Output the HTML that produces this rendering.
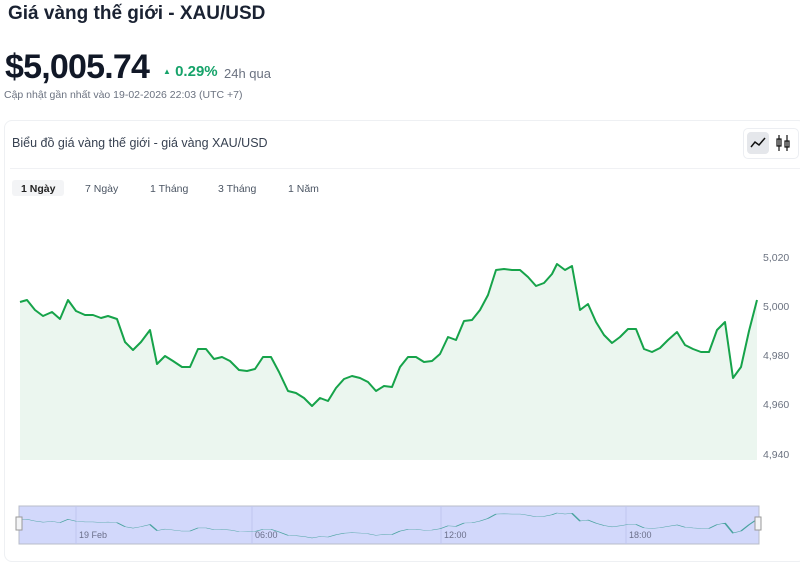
<!DOCTYPE html><html><head><meta charset="utf-8"><style>
body{margin:0;width:800px;height:553px;overflow:hidden;background:#fff;font-family:"Liberation Sans",sans-serif;color:#1f2937}
.t{position:absolute;left:8px;top:3px;font-size:19px;font-weight:600;color:#1a2232}
.p{position:absolute;left:5px;top:48px;font-size:34px;font-weight:700;color:#111827;letter-spacing:-0.8px}
.c{position:absolute;left:163px;top:63px;font-size:15px;font-weight:700;color:#16a36a}
.q{position:absolute;left:224px;top:66px;font-size:13px;color:#6b7280}
.u{position:absolute;left:4px;top:89px;font-size:10.5px;color:#6b7280}
.card{position:absolute;left:4px;top:120px;width:800px;height:440px;border:1px solid #eef0f3;border-radius:8px}
.h{position:absolute;left:12px;top:136px;font-size:12.5px;color:#374151}
</style></head><body>
<div class="t">Giá vàng thế giới - XAU/USD</div>
<div class="p">$5,005.74</div>
<div class="c"><span style="font-size:8px;vertical-align:2px">▲</span> 0.29%</div>
<div class="q">24h qua</div>
<div class="u">Cập nhật gần nhất vào 19-02-2026 22:03 (UTC +7)</div>
<div class="card"></div>
<div class="h">Biểu đồ giá vàng thế giới - giá vàng XAU/USD</div>
<div style="position:absolute;left:10px;top:168px;width:790px;border-top:1px solid #f0f1f4"></div>
<div style="position:absolute;left:743px;top:128px;width:54px;height:29px;border:1px solid #eceef2;border-radius:5px"></div>
<div style="position:absolute;left:747px;top:132px;width:22px;height:22px;background:#e5e7eb;border-radius:4px"></div>
<svg style="position:absolute;left:0;top:0" width="800" height="553">
<defs><polyline id="L" points="20,302 27,300 35,310 43,316 52,312 60,319 68,300 76,311 85,315 93,315 101,318 108,316 117,319 125,342 133,350 141,342 150,330 157,364 165,356 173,361 182,367 190,367 198,349 206,349 214,359 222,357 230,361 239,370 247,371 255,369 263,357 271,357 279,372 288,391 296,393 304,398 312,406 320,398 328,401 336,388 344,379 352,376 360,378 368,382 376,391 384,386 392,387 400,367 408,357 416,357 424,362 432,361 440,354 448,337 456,340 464,321 472,320 480,310 488,295 496,270 504,269 512,270 520,270 528,277 536,286 544,283 552,274 557,264 565,270 572,266 580,310 588,304 596,322 604,335 612,343 620,337 628,329 636,329 644,349 652,352 660,348 668,340 677,332 685,345 693,349 701,352 709,352 717,330 725,322 733,378 741,367 749,331 757,300"/></defs>
<polyline points="751,147 755,142 759,145 765,138" fill="none" stroke="#111" stroke-width="1.5"/>
<g stroke="#111" stroke-width="1.2" fill="none"><line x1="779" y1="135" x2="779" y2="151"/><rect x="777" y="139" width="4" height="7"/><line x1="787" y1="135" x2="787" y2="151"/><rect x="785" y="141" width="4" height="6"/></g>
<rect x="12" y="180" width="52" height="16" rx="3" fill="#f3f4f6"/>
<text font-size="10.5" font-weight="bold" fill="#222" y="192"><tspan x="21">1 Ngày</tspan></text>
<text font-size="10.5" fill="#4b5563" y="192"><tspan x="85">7 Ngày</tspan><tspan x="150">1 Tháng</tspan><tspan x="218">3 Tháng</tspan><tspan x="288">1 Năm</tspan></text>
<polygon fill="#ebf6ef" points="20,460 20,302 27,300 35,310 43,316 52,312 60,319 68,300 76,311 85,315 93,315 101,318 108,316 117,319 125,342 133,350 141,342 150,330 157,364 165,356 173,361 182,367 190,367 198,349 206,349 214,359 222,357 230,361 239,370 247,371 255,369 263,357 271,357 279,372 288,391 296,393 304,398 312,406 320,398 328,401 336,388 344,379 352,376 360,378 368,382 376,391 384,386 392,387 400,367 408,357 416,357 424,362 432,361 440,354 448,337 456,340 464,321 472,320 480,310 488,295 496,270 504,269 512,270 520,270 528,277 536,286 544,283 552,274 557,264 565,270 572,266 580,310 588,304 596,322 604,335 612,343 620,337 628,329 636,329 644,349 652,352 660,348 668,340 677,332 685,345 693,349 701,352 709,352 717,330 725,322 733,378 741,367 749,331 757,300 757,460"/>
<use href="#L" fill="none" stroke="#16a34a" stroke-width="2" stroke-linejoin="round"/>
<g font-size="10.5" fill="#6b7280"><text x="763" y="261">5,020</text><text x="763" y="310">5,000</text><text x="763" y="359">4,980</text><text x="763" y="408">4,960</text><text x="763" y="458">4,940</text></g>
<rect x="19" y="506" width="740" height="38" fill="#d2d8fb" stroke="#b8bcc8"/>
<g stroke="#c0c6ef"><line x1="76" y1="506" x2="76" y2="544"/><line x1="252" y1="506" x2="252" y2="544"/><line x1="441" y1="506" x2="441" y2="544"/><line x1="626" y1="506" x2="626" y2="544"/></g>
<g transform="translate(0,466.5) scale(1,0.176)"><use href="#L" fill="none" stroke="#4aa3a0" stroke-width="2" vector-effect="non-scaling-stroke"/></g>
<g font-size="9" fill="#6b6f8a"><text x="79" y="538">19 Feb</text><text x="255" y="538">06:00</text><text x="444" y="538">12:00</text><text x="629" y="538">18:00</text></g>
<rect x="16" y="517" width="6" height="13" fill="#f3f4f6" stroke="#999"/><rect x="755" y="517" width="6" height="13" fill="#f3f4f6" stroke="#999"/>
</svg>
</body></html>
